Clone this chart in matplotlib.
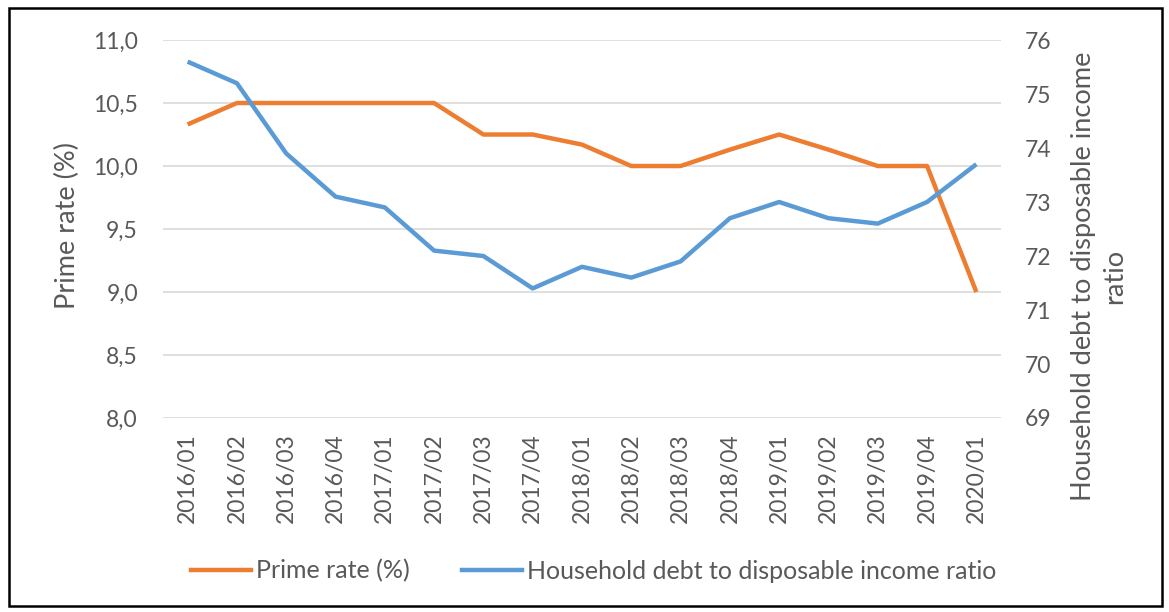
import matplotlib
matplotlib.use("Agg")
import matplotlib.pyplot as plt
from matplotlib.patches import Rectangle
from matplotlib.ticker import FuncFormatter

plt.rcParams['font.family'] = ['Lato', 'DejaVu Sans']

# 데이터
quarters = ["2016/01", "2016/02", "2016/03", "2016/04",
            "2017/01", "2017/02", "2017/03", "2017/04",
            "2018/01", "2018/02", "2018/03", "2018/04",
            "2019/01", "2019/02", "2019/03", "2019/04",
            "2020/01"]
prime_rate = [10.33, 10.5, 10.5, 10.5,
              10.5, 10.5, 10.25, 10.25,
              10.17, 10.0, 10.0, 10.13,
              10.25, 10.13, 10.0, 10.0,
              9.0]
debt_ratio = [75.6, 75.2, 73.9, 73.1,
              72.9, 72.1, 72.0, 71.4,
              71.8, 71.6, 71.9, 72.7,
              73.0, 72.7, 72.6, 73.0,
              73.7]

ORANGE = "#ED7D31"
BLUE = "#5B9BD5"
GREY = "#595959"

fig = plt.figure(figsize=(11.69, 6.12), dpi=100)
ax = fig.add_axes([0.1394, 0.317, 0.7169, 0.6176])
ax2 = ax.twinx()

x = range(len(quarters))
ax.plot(x, prime_rate, color=ORANGE, lw=3.2, solid_capstyle="butt", zorder=3)
ax2.plot(x, debt_ratio, color=BLUE, lw=3.2, solid_capstyle="butt", zorder=3)

ax.set_xlim(-0.5, len(quarters) - 0.5)
ax.set_ylim(8, 11)
ax.set_yticks([8 + 0.5 * i for i in range(7)])
ax.yaxis.set_major_formatter(FuncFormatter(lambda v, p: f"{v:.1f}".replace(".", ",")))
ax2.set_ylim(69, 76)
ax2.set_yticks(range(69, 77))

ax.set_xticks(list(x))
ax.set_xticklabels(quarters, rotation=90)

ax.grid(axis="y", color="#D9D9D9", lw=1.2)
ax.set_axisbelow(True)
for a in (ax, ax2):
    for s in a.spines.values():
        s.set_visible(False)
    a.tick_params(length=0, colors=GREY, labelsize=16.5)
ax.tick_params(axis="y", pad=18)
ax.tick_params(axis="x", pad=11)
ax2.tick_params(axis="y", pad=17)

fig.text(0.058, 0.632, "Prime rate (%)", rotation=90, ha="center", va="center",
         color=GREY, fontsize=19.5)
fig.text(0.940, 0.549, "Household debt to disposable income\nratio", rotation=90,
         ha="center", va="center", multialignment="center", color=GREY,
         fontsize=19.6, linespacing=1.3)

# 범례
handles = [plt.Line2D([], [], color=ORANGE, lw=3.2),
           plt.Line2D([], [], color=BLUE, lw=3.2)]
fig.legend(handles, ["Prime rate (%)", "Household debt to disposable income ratio"],
           loc="center", bbox_to_anchor=(0.508, 0.067), ncol=2, frameon=False,
           fontsize=18, labelcolor=GREY, handlelength=2.4, handletextpad=0.2,
           columnspacing=2.1)

# 바깥 테두리
fig.patches.append(Rectangle((0.008, 0.01), 0.986, 0.977, transform=fig.transFigure,
                             fill=False, edgecolor="black", lw=1.8))

fig.savefig("out.png", dpi=100)
